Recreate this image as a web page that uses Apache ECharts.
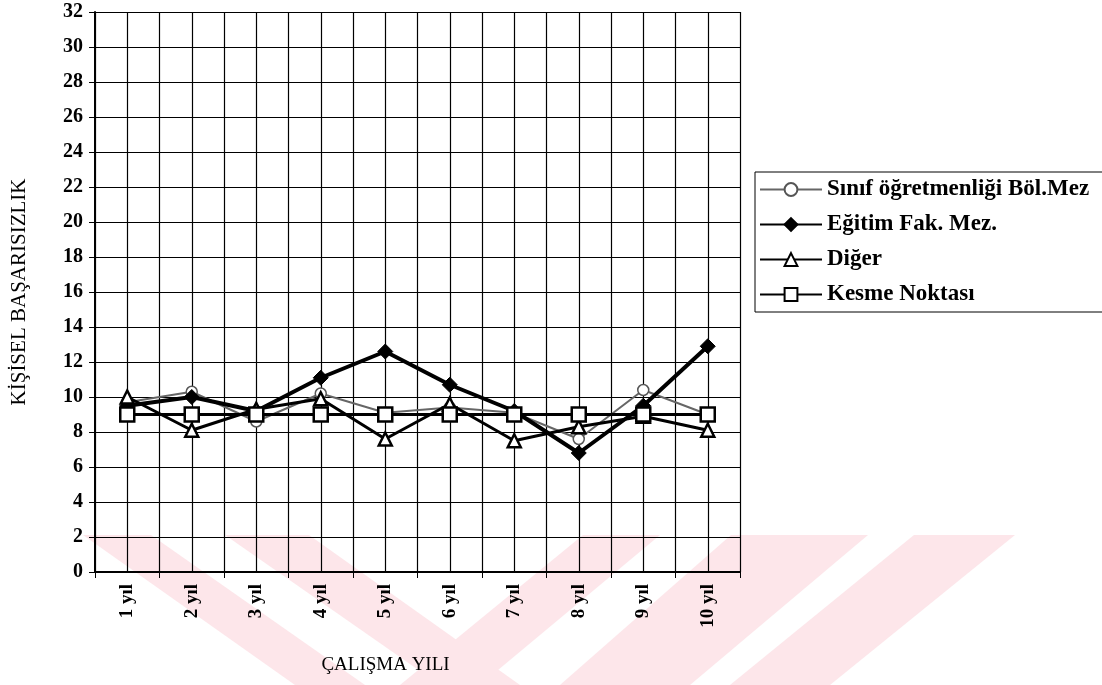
<!DOCTYPE html>
<html><head><meta charset="utf-8">
<script src="https://cdn.jsdelivr.net/npm/echarts@6/dist/echarts.min.js"></script>
<style>html,body{margin:0;padding:0;background:#fff}#c{width:1102px;height:685px}</style>
</head><body><div id="c"></div>
<script>
const categories = ['1 yıl','2 yıl','3 yıl','4 yıl','5 yıl','6 yıl','7 yıl','8 yıl','9 yıl','10 yıl'];
const sinif   = [9.7, 10.3, 8.6, 10.2, 9.1, 9.4, 9.1, 7.6, 10.4, 9.0];
const egitim  = [9.5, 10.0, 9.2, 11.1, 12.6, 10.7, 9.2, 6.8, 9.5, 12.9];
const diger   = [10.0, 8.1, 9.3, 9.9, 7.6, 9.6, 7.5, 8.3, 8.9, 8.1];
const kesme   = [9, 9, 9, 9, 9, 9, 9, 9, 9, 9];
const seriesNames = ['Sınıf öğretmenliği Böl.Mez', 'Eğitim Fak. Mez.', 'Diğer', 'Kesme Noktası'];
const yTicks = {min: 0, max: 32, step: 2};
const halfSlots = categories.flatMap(c => [c + 'a', c + 'b']);

// background watermark stripes (decoration only)
const stripes = [
  [[83,535],[151,535],[365,685],[295,685]],
  [[225,535],[309,535],[520,685],[440,685]],
  [[583,535],[660,535],[480,685],[400,685]],
  [[731,535],[868,535],[690,685],[560,685]],
  [[914,535],[1015,535],[830,685],[730,685]]
];

const font = '"Liberation Serif", "DejaVu Serif", serif';
const chart = echarts.init(document.getElementById('c'), null, {renderer: 'canvas'});
chart.setOption({
  animation: false,
  backgroundColor: '#fff',
  graphic: stripes.map(p => ({type: 'polygon', z: -10, silent: true,
    shape: {points: p}, style: {fill: '#fde6ea'}})),
  grid: {left: 95, top: 12, right: 362, bottom: 113, containLabel: false},
  legend: {
    orient: 'vertical', left: 755, top: 172,
    data: seriesNames,
    itemWidth: 62, itemHeight: 16, itemGap: 12,
    padding: [6, 20, 6, 4],
    borderColor: '#000', borderWidth: 1,
    textStyle: {fontFamily: font, fontSize: 23, lineHeight: 23, color: '#000', fontWeight: 'bold'}
  },
  xAxis: [{
    type: 'category', data: categories, boundaryGap: true,
    name: 'ÇALIŞMA YILI', nameLocation: 'middle', nameGap: 84,
    nameTextStyle: {fontFamily: font, fontSize: 19, color: '#000', padding: [0, 64, 0, 0]},
    axisLine: {lineStyle: {color: '#000', width: 2}},
    axisTick: {show: true, length: 6, lineStyle: {color: '#000', width: 1}},
    axisLabel: {rotate: 90, fontFamily: font, fontSize: 19, color: '#000', fontWeight: 'bold', margin: 12, interval: 0},
    splitLine: {show: false}
  }, {
    type: 'category', data: halfSlots, boundaryGap: true, position: 'bottom',
    axisLine: {show: false}, axisTick: {show: false}, axisLabel: {show: false},
    splitLine: {show: true, interval: 0, lineStyle: {color: '#000', width: 1.2}}
  }],
  yAxis: {
    type: 'value', min: yTicks.min, max: yTicks.max, interval: yTicks.step,
    name: 'KİŞİSEL BAŞARISIZLIK', nameLocation: 'middle', nameGap: 65, nameRotate: 90,
    nameTextStyle: {fontFamily: font, fontSize: 21, color: '#000'},
    axisLine: {show: true, lineStyle: {color: '#000', width: 2}},
    axisTick: {show: true, length: 6, lineStyle: {color: '#000'}},
    axisLabel: {fontFamily: font, fontSize: 20, fontWeight: 'bold', color: '#000', margin: 12},
    splitLine: {show: true, lineStyle: {color: '#000', width: 1.2}}
  },
  series: [
    {name: seriesNames[0], type: 'line', data: sinif, symbol: 'circle', symbolSize: 11,
     itemStyle: {color: '#fff', borderColor: '#555', borderWidth: 1.5},
     lineStyle: {color: '#666', width: 2}, z: 3},
    {name: seriesNames[1], type: 'line', data: egitim, symbol: 'diamond', symbolSize: 15,
     itemStyle: {color: '#000', borderColor: '#000', borderWidth: 1},
     lineStyle: {color: '#000', width: 4}, z: 4},
    {name: seriesNames[2], type: 'line', data: diger, symbol: 'triangle', symbolSize: 13,
     itemStyle: {color: '#fff', borderColor: '#000', borderWidth: 2.5},
     lineStyle: {color: '#000', width: 3}, z: 5},
    {name: seriesNames[3], type: 'line', data: kesme, symbol: 'rect', symbolSize: 14,
     itemStyle: {color: '#fff', borderColor: '#000', borderWidth: 2.5},
     lineStyle: {color: '#000', width: 3}, z: 6}
  ]
});
</script></body></html>
